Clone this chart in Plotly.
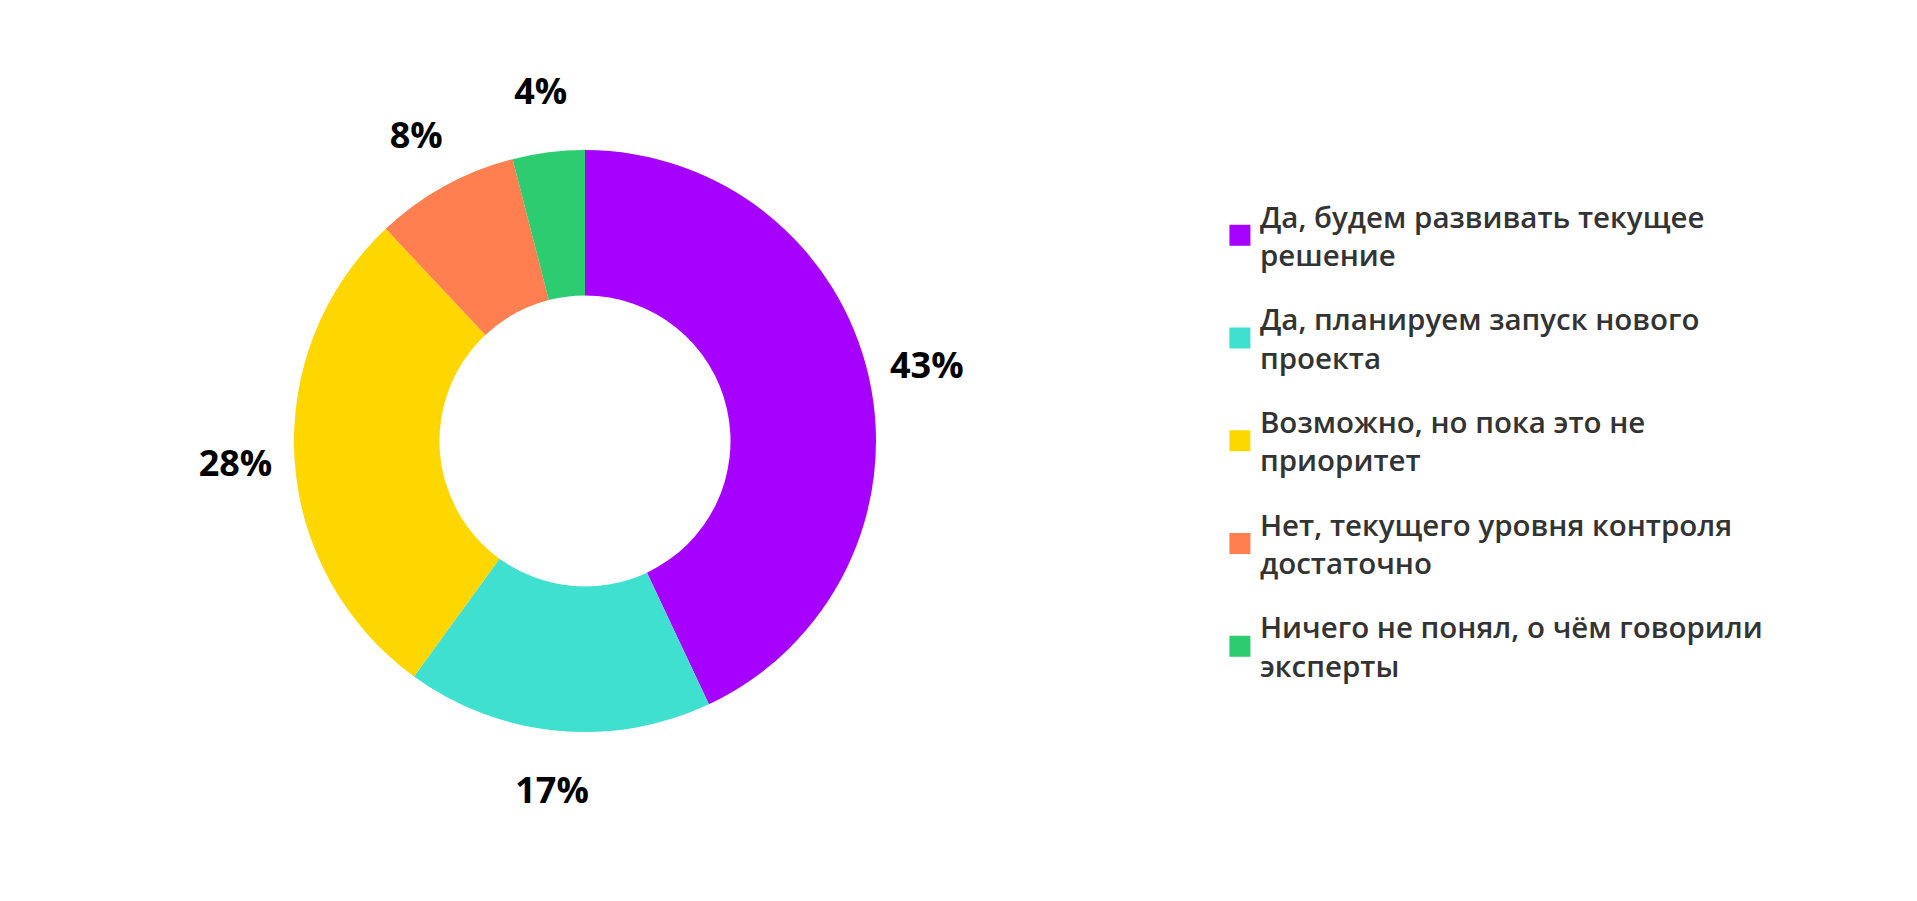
import plotly.graph_objects as go

labels = [
    "Да, будем развивать текущее<br>решение",
    "Да, планируем запуск нового<br>проекта",
    "Возможно, но пока это не<br>приоритет",
    "Нет, текущего уровня контроля<br>достаточно",
    "Ничего не понял, о чём говорили<br>эксперты",
]
values = [43, 17, 28, 8, 4]
colors = ["#a600ff", "#40e0d0", "#ffd700", "#ff7f50", "#2ecc71"]

# page geometry (px)
W, H = 1917, 901
CX, CY = 577, 433      # donut centre
R = 291                # donut outer radius
R_LAB = 398            # outer radius of the invisible ring that carries the % labels
PH = 2 * R_LAB         # plot-area height

fig = go.Figure()

# the donut itself
fig.add_trace(
    go.Pie(
        labels=labels,
        values=values,
        hole=0.5,
        sort=False,
        direction="clockwise",
        rotation=0,
        marker=dict(colors=colors, line=dict(width=0)),
        textinfo="none",
        showlegend=False,
        domain=dict(
            x=[(CX - R) / W, (CX + R) / W],
            y=[(R_LAB - R) / PH, (R_LAB + R) / PH],
        ),
        hoverinfo="label+percent",
    )
)

# transparent ring outside the donut, only used to place the percentage labels
fig.add_trace(
    go.Pie(
        labels=labels,
        values=values,
        hole=0.76,
        sort=False,
        direction="clockwise",
        rotation=0,
        marker=dict(colors=["rgba(0,0,0,0)"] * len(values), line=dict(width=0)),
        textposition="inside",
        insidetextorientation="horizontal",
        texttemplate="%{percent:.0%}",
        insidetextfont=dict(family="Open Sans", size=36, color="#000000", weight=700),
        showlegend=False,
        hoverinfo="skip",
        domain=dict(x=[(CX - R_LAB) / W, (CX + R_LAB) / W], y=[0, 1]),
    )
)

# legend entries
for name, color in zip(labels, colors):
    fig.add_trace(
        go.Scatter(
            x=[None],
            y=[None],
            mode="markers",
            name=name,
            legendgroup=name,
            marker=dict(symbol="square", size=16, color=color, line=dict(width=5, color=color)),
        )
    )

fig.update_layout(
    width=W,
    height=H,
    margin=dict(l=0, r=0, t=CY - R_LAB, b=H - CY - R_LAB),
    paper_bgcolor="white",
    plot_bgcolor="white",
    font=dict(family="Open Sans"),
    xaxis=dict(visible=False),
    yaxis=dict(visible=False),
    legend=dict(
        x=0.6322,
        xanchor="left",
        y=0.5,
        yanchor="middle",
        traceorder="grouped",
        tracegroupgap=23,
        font=dict(family="Open Sans", size=29.5, color="#333333", weight=600),
    ),
)

fig.write_html("out.html")
